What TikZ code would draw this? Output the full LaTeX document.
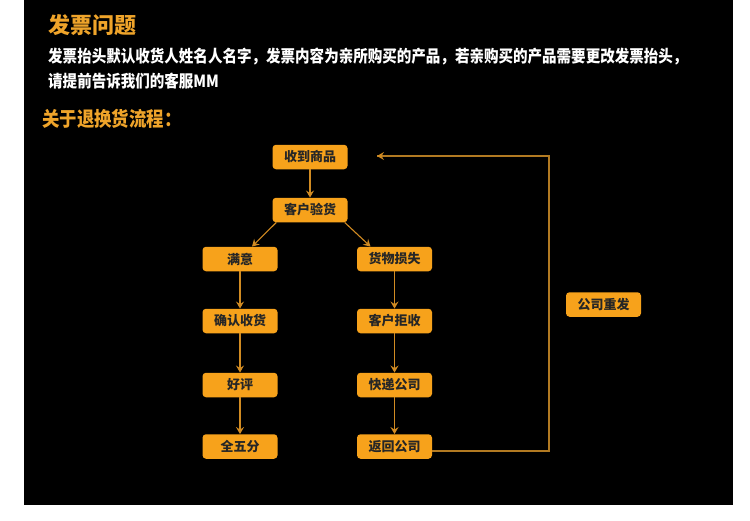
\documentclass[tikz,border=0pt]{standalone}
\usepackage{fontspec}
\newfontfamily\cjk{Noto Sans CJK SC}
\newfontfamily\cjkn{Noto Sans CJK SC}[FakeStretch=0.87]
\usetikzlibrary{arrows.meta,calc}
\definecolor{boxfill}{HTML}{F7A21B}
\definecolor{linec}{HTML}{D18B22}
\definecolor{loopc}{HTML}{B27A22}
\definecolor{headc}{HTML}{EFA42A}
\tikzset{
  stepbox/.style={draw=none, fill=boxfill, rounded corners=3.5pt, minimum width=75pt, minimum height=24.5pt, inner sep=0pt, font=\cjk\bfseries\fontsize{13pt}{13pt}\selectfont, text=black!85},
  flow/.style={draw=linec, line width=1.1pt, -{Stealth[length=7pt,width=8pt,inset=2.5pt]}},
  loopline/.style={draw=loopc, line width=1.1pt},
  para/.style={anchor=west, inner sep=0pt, text=white, font=\cjkn\bfseries\fontsize{16.7pt}{17pt}\selectfont},
}
\begin{document}
\begin{tikzpicture}[x=1pt,y=-1pt]
\useasboundingbox (0,0) rectangle (750,520);
\fill[white] (0,0) rectangle (750,520);
\fill[black] (24,0) rectangle (733,505);
% headings and text
\node[anchor=west, inner sep=0pt, text=headc, font=\cjk\bfseries\fontsize{22pt}{22pt}\selectfont] (title) at (48,25) {发票问题};
\node[para] (p1) at (48,57) {发票抬头默认收货人姓名人名字，发票内容为亲所购买的产品，若亲购买的产品需要更改发票抬头，};
\node[para] (p2) at (48,81) {请提前告诉我们的客服MM};
\node[anchor=west, inner sep=0pt, text=headc, font=\cjkn\bfseries\fontsize{20pt}{20pt}\selectfont] (sub) at (42,119) {关于退换货流程：};
% boxes
\node[stepbox] (a1) at (310,157) {收到商品};
\node[stepbox] (a2) at (310,210) {客户验货};
\node[stepbox] (l1) at (240,259) {满意};
\node[stepbox] (l2) at (240,321) {确认收货};
\node[stepbox] (l3) at (240,385) {好评};
\node[stepbox] (l4) at (240,446.5) {全五分};
\node[stepbox] (r1) at (394.5,259) {货物损失};
\node[stepbox] (r2) at (394.5,321) {客户拒收};
\node[stepbox] (r3) at (394.5,385) {快递公司};
\node[stepbox] (r4) at (394.5,446.5) {返回公司};
\node[stepbox] (re) at (603.5,304.5) {公司重发};
% connectors
\draw[flow] (a1.south) -- (a2.north);
\draw[flow] ($(a2.south west)+(4,0)$) -- ($(l1.north)+(12,0)$);
\draw[flow] ($(a2.south east)+(-3,0)$) -- ($(r1.north)+(-24,0)$);
\draw[flow] (l1.south) -- (l2.north);
\draw[flow] (l2.south) -- (l3.north);
\draw[flow] (l3.south) -- (l4.north);
\draw[flow] (r1.south) -- (r2.north);
\draw[flow] (r2.south) -- (r3.north);
\draw[flow] (r3.south) -- (r4.north);
\coordinate (c1) at (549,451);
\coordinate (c2) at (549,156);
\coordinate (tip) at (377,156);
\draw[loopline] ($(r4.east)+(0,4.5)$) -- (c1) -- (c2) -- (tip);
\draw[flow, draw=linec] ($(tip)+(1,0)$) -- (tip);
\end{tikzpicture}
\end{document}
